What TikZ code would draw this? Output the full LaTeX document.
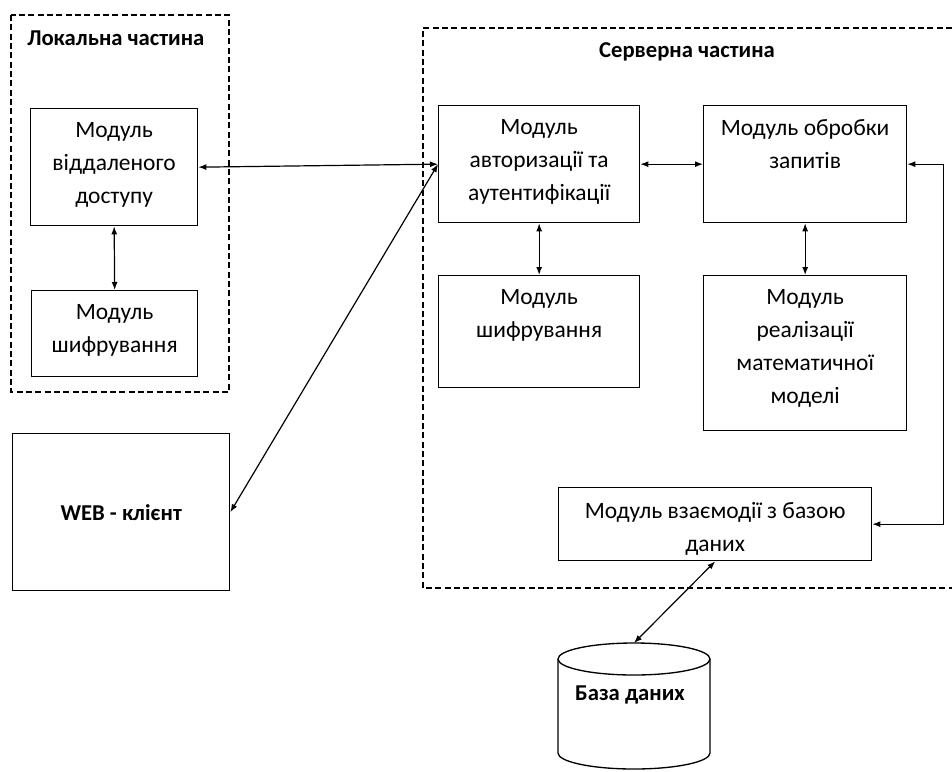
\documentclass[tikz,border=0pt]{standalone}
\usepackage{fontspec}
\setmainfont{Carlito}
\usetikzlibrary{arrows.meta, positioning}

\begin{document}
\begin{tikzpicture}[x=0.75pt, y=-0.75pt,
  blk/.style={draw, line width=1pt, anchor=north west, inner sep=0pt},
  wh/.style 2 args={minimum width=#1*0.75pt, minimum height=#2*0.75pt},
  txt/.style={align=center, inner sep=0pt, font=\fontsize{17.6}{24.75}\selectfont},
  ttl/.style={inner sep=0pt, font=\fontsize{17}{20}\selectfont\bfseries},
  zone/.style={line width=0.8pt, dash pattern=on 4.5pt off 2.5pt},
  link/.style={{Latex[length=6pt,width=4.5pt]}-{Latex[length=6pt,width=4.5pt]}, line width=0.9pt}]
\useasboundingbox (0,0) rectangle (952,771);

%local part
\draw[zone] (11,15) rectangle (229,392);
\node[ttl, anchor=west] (ltitle) at (27,38) {Локальна частина};
\node[blk, wh={167}{117}] (remote) at (30,108) {};
\node[txt, below=11pt of remote.north] (remote-t) {Модуль\\віддаленого\\доступу};
\node[blk, wh={166}{86}] (lenc) at (31,290) {};
\node[txt, below=11pt of lenc.north] (lenc-t) {Модуль\\шифрування};

%web client
\node[blk, wh={217}{157}, font=\fontsize{17}{20}\selectfont\bfseries] (web) at (12,433) {WEB - клієнт};

%server part
\draw[zone] (952,28) -- (423,28) -- (423,588) -- (952,588);
\node[ttl] (stitle) at (687,52) {Серверна частина};
\node[blk, wh={201}{117}] (auth) at (438,105) {};
\node[txt, below=11pt of auth.north] (auth-t) {Модуль\\авторизації та\\аутентифікації};
\node[blk, wh={203}{117}] (proc) at (703,105) {};
\node[txt, below=11pt of proc.north] (proc-t) {Модуль обробки\\запитів};
\node[blk, wh={201}{112}] (senc) at (438,275) {};
\node[txt, below=11pt of senc.north] (senc-t) {Модуль\\шифрування};
\node[blk, wh={203}{155}] (math) at (703,275) {};
\node[txt, below=11pt of math.north] (math-t) {Модуль\\реалізації\\математичної\\моделі};
\node[blk, wh={313}{73}] (dbm) at (558,487) {};
\node[txt, below=11pt of dbm.north] (dbm-t) {Модуль взаємодії з базою\\даних};

%database
\coordinate (dbtop) at (634,643);
\draw[line width=1pt] (634,659) ellipse [x radius=76, y radius=16];
\draw[line width=1pt] (558,659) -- (558,753) arc[start angle=180, end angle=0, x radius=76, y radius=16] -- (710,659);
\node[ttl] (db-t) at (630,695) {База даних};

%links
\draw[link] (remote.east) -- (auth.west);
\draw[link] (web.east) -- (auth.west);
\draw[link] (remote.south) -- (lenc.north);
\draw[link] (auth.east) -- (proc.west);
\draw[link] (auth.south) -- (senc.north);
\draw[link] (proc.south) -- (math.north);
\draw[link] (proc.east) -- ++(36,0) |- (dbm.east);
\draw[link] (dbm.south) -- (dbtop);
\end{tikzpicture}
\end{document}
